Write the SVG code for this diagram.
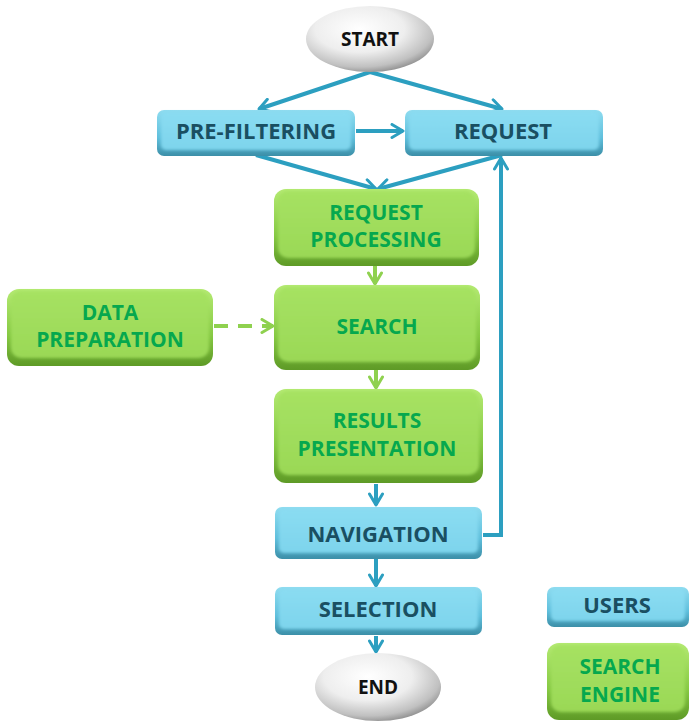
<svg xmlns="http://www.w3.org/2000/svg" width="689" height="723" viewBox="0 0 689 723">
  <defs>
    <linearGradient id="blueEdge" x1="0" y1="0" x2="0" y2="1">
      <stop offset="0" stop-color="#8fdcf0"/>
      <stop offset="0.6" stop-color="#5fbfdc"/>
      <stop offset="1" stop-color="#3c8fa8"/>
    </linearGradient>
    <linearGradient id="blueFace" x1="0" y1="0" x2="0" y2="1">
      <stop offset="0" stop-color="#8adcf2"/>
      <stop offset="1" stop-color="#7dd4ec"/>
    </linearGradient>
    <linearGradient id="greenEdge" x1="0" y1="0" x2="0" y2="1">
      <stop offset="0" stop-color="#b4ea72"/>
      <stop offset="0.6" stop-color="#86c943"/>
      <stop offset="1" stop-color="#5e9a26"/>
    </linearGradient>
    <linearGradient id="greenFace" x1="0" y1="0" x2="0" y2="1">
      <stop offset="0" stop-color="#a6e262"/>
      <stop offset="1" stop-color="#9ad856"/>
    </linearGradient>
    <radialGradient id="pill" cx="0.42" cy="0.35" r="0.7">
      <stop offset="0" stop-color="#ffffff"/>
      <stop offset="0.5" stop-color="#eeeeee"/>
      <stop offset="0.82" stop-color="#c0c0c0"/>
      <stop offset="1" stop-color="#858585"/>
    </radialGradient>
    <filter id="soft" x="-10%" y="-10%" width="120%" height="130%">
      <feGaussianBlur in="SourceGraphic" stdDeviation="1.6"/>
    </filter>
    <marker id="arrBlue" viewBox="0 0 16 16" refX="13" refY="8" markerWidth="16" markerHeight="16" markerUnits="userSpaceOnUse" orient="auto">
      <path d="M2,1.5 L13,8 L2,14.5" fill="none" stroke="#2c9fc0" stroke-width="3" stroke-linecap="round" stroke-linejoin="round"/>
    </marker>
    <marker id="arrGreen" viewBox="0 0 16 16" refX="13" refY="8" markerWidth="16" markerHeight="16" markerUnits="userSpaceOnUse" orient="auto">
      <path d="M2,1.5 L13,8 L2,14.5" fill="none" stroke="#8fd14f" stroke-width="3" stroke-linecap="round" stroke-linejoin="round"/>
    </marker>
  </defs>
  <style>
    .blueOuter { fill: url(#blueEdge); }
    .blueInner { fill: url(#blueFace); filter: url(#soft); }
    .greenOuter { fill: url(#greenEdge); }
    .greenInner { fill: url(#greenFace); filter: url(#soft); }
    .ell { fill: url(#pill); }
    .tBlue { font-family: "Open Sans", "DejaVu Sans", sans-serif; font-weight: bold; font-size: 22px; fill: #1a4f62; text-anchor: middle; }
    .tGreen { font-family: "Open Sans", "DejaVu Sans", sans-serif; font-weight: bold; font-size: 21px; fill: #06a84e; text-anchor: middle; }
    .tEll { font-family: "Open Sans", "DejaVu Sans", sans-serif; font-weight: bold; font-size: 19px; fill: #111111; text-anchor: middle; }
    .cB { fill: none; stroke: #2c9fc0; stroke-width: 4; marker-end: url(#arrBlue); }
    .cG { fill: none; stroke: #8fd14f; stroke-width: 4; marker-end: url(#arrGreen); }
  </style>

  <!-- connectors -->
  <g id="connectors">
    <path class="cB" d="M370,72 L259,109"/>
    <path class="cB" d="M370,72 L502,109"/>
    <path class="cB" d="M356,131 L403,131"/>
    <path class="cB" d="M256,155 L376,189"/>
    <path class="cB" d="M502,155 L378,189"/>
    <path class="cG" d="M375,266 L375,284"/>
    <path class="cG" d="M214,326 L273,326" stroke-dasharray="14,10"/>
    <path class="cG" d="M376,370 L376,388"/>
    <path class="cB" d="M376,484 L376,505"/>
    <path class="cB" d="M483,535 L501,535 L501,158"/>
    <path class="cB" d="M376,559 L376,586"/>
    <path class="cB" d="M376,636 L376,652"/>
  </g>

  <g id="start">
    <ellipse class="ell" cx="370" cy="39" rx="64" ry="33"/>
    <text class="tEll" x="370" y="46">START</text>
  </g>

  <g id="prefiltering">
    <rect class="blueOuter" x="157" y="110" width="198" height="46" rx="7"/>
    <rect class="blueInner" x="161" y="112" width="190" height="38" rx="5"/>
    <text class="tBlue" x="256" y="139">PRE-FILTERING</text>
  </g>

  <g id="request">
    <rect class="blueOuter" x="405" y="110" width="198" height="46" rx="7"/>
    <rect class="blueInner" x="409" y="112" width="190" height="38" rx="5"/>
    <text class="tBlue" x="503" y="139">REQUEST</text>
  </g>

  <g id="request-processing">
    <rect class="greenOuter" x="274" y="189" width="205" height="77" rx="12"/>
    <rect class="greenInner" x="278" y="191" width="197" height="67" rx="10"/>
    <text class="tGreen" x="376" y="220"><tspan x="376">REQUEST</tspan><tspan x="376" dy="27">PROCESSING</tspan></text>
  </g>

  <g id="data-preparation">
    <rect class="greenOuter" x="7" y="289" width="206" height="77" rx="12"/>
    <rect class="greenInner" x="11" y="291" width="198" height="67" rx="10"/>
    <text class="tGreen" x="110" y="320"><tspan x="110">DATA</tspan><tspan x="110" dy="27">PREPARATION</tspan></text>
  </g>

  <g id="search">
    <rect class="greenOuter" x="274" y="285" width="206" height="85" rx="12"/>
    <rect class="greenInner" x="278" y="287" width="198" height="75" rx="10"/>
    <text class="tGreen" x="377" y="334">SEARCH</text>
  </g>

  <g id="results-presentation">
    <rect class="greenOuter" x="274" y="389" width="209" height="94" rx="12"/>
    <rect class="greenInner" x="278" y="391" width="201" height="84" rx="10"/>
    <text class="tGreen" x="377" y="428"><tspan x="377">RESULTS</tspan><tspan x="377" dy="28">PRESENTATION</tspan></text>
  </g>

  <g id="navigation">
    <rect class="blueOuter" x="275" y="507" width="207" height="52" rx="7"/>
    <rect class="blueInner" x="279" y="509" width="199" height="44" rx="5"/>
    <text class="tBlue" x="378" y="542">NAVIGATION</text>
  </g>

  <g id="selection">
    <rect class="blueOuter" x="275" y="587" width="207" height="48" rx="7"/>
    <rect class="blueInner" x="279" y="589" width="199" height="40" rx="5"/>
    <text class="tBlue" x="378" y="617">SELECTION</text>
  </g>

  <g id="end">
    <ellipse class="ell" cx="378" cy="687" rx="63" ry="34"/>
    <text class="tEll" x="378" y="694">END</text>
  </g>

  <g id="legend-users">
    <rect class="blueOuter" x="547" y="587" width="142" height="40" rx="7"/>
    <rect class="blueInner" x="551" y="589" width="134" height="32" rx="5"/>
    <text class="tBlue" x="617" y="613">USERS</text>
  </g>

  <g id="legend-search-engine">
    <rect class="greenOuter" x="547" y="643" width="142" height="77" rx="12"/>
    <rect class="greenInner" x="551" y="645" width="134" height="67" rx="10"/>
    <text class="tGreen" x="620" y="674"><tspan x="620">SEARCH</tspan><tspan x="620" dy="28">ENGINE</tspan></text>
  </g>
</svg>
